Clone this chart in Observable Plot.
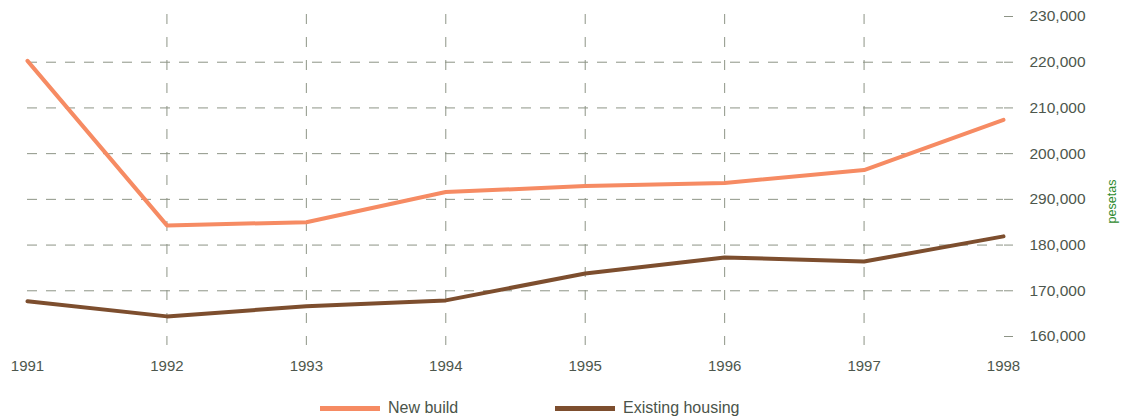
<!DOCTYPE html>
<html>
<head>
<meta charset="utf-8">
<script src="https://cdn.jsdelivr.net/npm/d3@7"></script>
<script src="https://cdn.jsdelivr.net/npm/@observablehq/plot@0.6"></script>
<style>
  body { margin: 0; background: #fff; font-family: "Liberation Sans", Arial, sans-serif; }
  #legend { position: relative; height: 33px; font-size: 16px; color: #4a544a; }
  .item { position: absolute; top: 14px; display: flex; align-items: center; }
  .sw { display: inline-block; width: 60px; height: 5px; margin-right: 8px; }
</style>
</head>
<body>
<div id="chart"></div>
<div id="legend"></div>
<script>
const years = [1991, 1992, 1993, 1994, 1995, 1996, 1997, 1998];
const newBuild = [220300, 184300, 185000, 191600, 192900, 193600, 196400, 207400];
const existing = [167700, 164400, 166600, 167900, 173800, 177300, 176400, 181900];
const yTicks = [160000, 170000, 180000, 190000, 200000, 210000, 220000, 230000];
const yTickLabels = ["160,000", "170,000", "180,000", "290,000", "200,000", "210,000", "220,000", "230,000"];
const gridValues = [170000, 180000, 190000, 200000, 210000, 220000];
const innerYears = [1992, 1993, 1994, 1995, 1996, 1997];
const seriesNames = ["New build", "Existing housing"];
const seriesColors = ["#f68b63", "#7d4e2e"];

const data = [];
years.forEach((yr, i) => {
  data.push({year: yr, value: newBuild[i], series: seriesNames[0]});
  data.push({year: yr, value: existing[i], series: seriesNames[1]});
});

const labelMap = new Map(yTicks.map((v, i) => [v, yTickLabels[i]]));
const textColor = "#4d574d";
const gridColor = "#8d9486";

const chart = Plot.plot({
  width: 1121,
  height: 385,
  marginLeft: 27,
  marginRight: 118,
  marginTop: 16,
  marginBottom: 49,
  style: {fontFamily: "'Liberation Sans', Arial, sans-serif", fontSize: "13px", background: "#fff"},
  x: {domain: [1991, 1998]},
  y: {domain: [160000, 230000]},
  color: {domain: seriesNames, range: seriesColors},
  marks: [
    Plot.ruleY(gridValues, {stroke: gridColor, strokeWidth: 1, strokeDasharray: "10,9"}),
    Plot.ruleX(innerYears, {stroke: gridColor, strokeWidth: 1, strokeDasharray: "10,13", insetTop: -2, insetBottom: -9}),
    Plot.axisX({ticks: years, tickSize: 0, tickPadding: 24, tickFormat: d => String(d), fill: textColor, fontSize: 15, label: null}),
    Plot.axisY({anchor: "right", ticks: yTicks, tickSize: 9, stroke: gridColor, tickPadding: 17, textAnchor: "start", tickFormat: d => labelMap.get(d), fill: textColor, fontSize: 15.5, label: null}),
    Plot.text(["pesetas"], {frameAnchor: "right", textAnchor: "middle", dx: 108, dy: 25, rotate: -90, fill: "#2f8a2f", fontSize: 12.5}),
    Plot.line(data, {x: "year", y: "value", z: "series", stroke: "series", strokeWidth: 4})
  ]
});
document.getElementById("chart").appendChild(chart);

const legend = document.getElementById("legend");
const lefts = [320, 555];
seriesNames.forEach((name, i) => {
  const item = document.createElement("div");
  item.className = "item";
  item.style.left = lefts[i] + "px";
  item.innerHTML = `<span class="sw" style="background:${seriesColors[i]}"></span><span>${name}</span>`;
  legend.appendChild(item);
});
</script>
</body>
</html>
